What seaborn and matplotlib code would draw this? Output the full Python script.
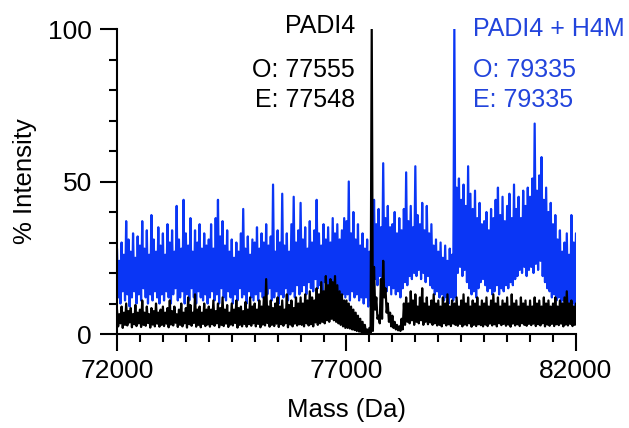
import numpy as np
import pandas as pd
import matplotlib
matplotlib.use("Agg")
import matplotlib.pyplot as plt
from matplotlib.ticker import MultipleLocator, FixedLocator
import seaborn as sns

# ---------------- data ----------------
mass_start, mass_stop, mass_step = 72000, 82000, 50
masses = np.arange(mass_start, mass_stop + 1, mass_step)

# PADI4 + H4M (blue) : upper and lower excursions of the noisy trace
blue_hi = [
    28, 24, 30, 26, 37, 31, 27, 33, 25, 32, 29, 37, 28, 34, 26, 39, 31, 27, 35, 29,
    33, 26, 36, 30, 34, 27, 42, 31, 28, 44, 33, 29, 38, 27, 34, 30, 36, 28, 33, 29,
    31, 36, 28, 38, 44, 32, 37, 29, 34, 27, 31, 25, 30, 27, 33, 41, 28, 32, 26, 31,
    30, 35, 28, 33, 30, 36, 29, 32, 49, 27, 34, 30, 46, 29, 33, 27, 36, 45, 30, 34,
    43, 31, 35, 28, 37, 30, 34, 44, 33, 29, 36, 31, 35, 30, 38, 33, 36, 31, 34, 38,
    37, 50, 33, 40, 31, 36, 29, 33, 28, 31, 27, 30, 44, 36, 41, 35, 56, 38, 42, 35,
    36, 40, 33, 38, 34, 41, 53, 37, 42, 35, 55, 39, 36, 43, 34, 42, 33, 36, 29, 31,
    27, 30, 25, 29, 24, 28, 26, 100, 48, 51, 44, 49, 42, 55, 46, 41, 47, 38, 43, 36,
    37, 40, 34, 41, 38, 44, 48, 39, 45, 37, 42, 46, 38, 49, 41, 45, 38, 47, 42, 48,
    45, 51, 69, 47, 52, 58, 44, 48, 40, 43, 36, 39, 31, 34, 27, 30, 33, 26, 39, 30,
    33,
]
blue_lo = [
    12, 10, 14, 11, 13, 9, 12, 14, 10, 13, 11, 15, 12, 10, 13, 11, 14, 12, 10, 13,
    11, 14, 12, 10, 13, 15, 11, 12, 14, 10, 13, 11, 15, 12, 10, 14, 12, 11, 13, 10,
    12, 14, 11, 13, 10, 15, 12, 11, 14, 12, 10, 13, 11, 15, 12, 13, 10, 14, 12, 11,
    13, 11, 14, 12, 10, 13, 15, 11, 12, 14, 10, 13, 12, 15, 11, 13, 14, 12, 16, 13,
    14, 16, 13, 17, 15, 14, 18, 15, 16, 14, 17, 15, 16, 14, 15, 13, 14, 12, 13, 12,
    13, 11, 14, 12, 13, 11, 12, 10, 12, 9, 11, 10, 18, 16, 19, 15, 17, 14, 16, 13,
    15, 13, 14, 12, 15, 17, 16, 19, 18, 20, 19, 21, 18, 20, 17, 19, 16, 15, 13, 14,
    12, 13, 11, 12, 10, 12, 11, 12, 20, 22, 19, 21, 17, 15, 13, 14, 12, 15, 17, 18,
    16, 14, 15, 13, 14, 16, 13, 15, 14, 16, 15, 17, 16, 18, 19, 21, 20, 22, 19, 21,
    22, 20, 23, 21, 24, 19, 17, 15, 14, 12, 13, 11, 12, 10, 11, 9, 10, 8, 10, 9,
    10,
]

# PADI4 (black)
black_hi = [
    8, 6.5, 9, 7, 10, 7.5, 8.5, 6.5, 9.5, 7, 8, 11, 7, 9, 6.5, 8.5, 7.5, 10, 7, 8,
    9, 7, 8.5, 11, 7.5, 9, 6.5, 8, 10, 7, 8.5, 12, 9.5, 7, 13, 8, 9, 7, 10, 8,
    9, 8, 11, 7.5, 10, 8.5, 12, 8, 9.5, 7, 10, 8, 11, 8.5, 9, 7.5, 10.5, 8, 12, 9,
    10, 8, 11, 9, 12, 18, 9, 11, 8.5, 10, 12, 9, 11, 8, 13, 9.5, 11, 8.5, 12, 10,
    12, 10, 13, 11, 14, 12, 11, 15, 13, 17, 14, 19, 16, 18, 17, 19, 16, 14, 13, 11,
    11, 10, 9, 8, 7, 6, 5, 4, 3, 1.5, 2, 100, 22, 12, 6, 18, 24, 15, 10, 7,
    6, 4, 3, 2.5, 5, 10, 12, 10, 14, 11, 13, 9, 12, 15, 10, 12, 9, 11, 13, 10,
    11, 9, 12, 10, 13, 9, 11, 10, 12, 9, 11, 13, 10, 12, 9, 11, 10, 12, 9, 11,
    10, 12, 9, 11, 13, 10, 12, 9, 11, 10, 12, 9, 13, 10, 11, 9, 12, 10, 11, 9,
    11, 9, 12, 10, 11, 9, 12, 10, 11, 9, 10, 12, 9, 11, 10, 12, 14, 10, 11, 9,
    10,
]
black_lo = [
    2.5, 3.5, 2, 3, 2.8, 3.8, 2.2, 3.2, 2.6, 3.5, 2.3, 3, 2.7, 3.6, 2.1, 3.1, 2.5, 3.4, 2.4, 3,
    2.6, 3.4, 2.2, 3.1, 2.8, 3.7, 2.3, 3, 2.5, 3.5, 2.1, 3.2, 2.7, 3.6, 2.4, 3, 2.2, 3.3, 2.6, 3.1,
    2.4, 3.2, 2.7, 3.5, 2.2, 3, 2.6, 3.4, 2.3, 3.1, 2.8, 3.6, 2.1, 3, 2.5, 3.3, 2.4, 3.2, 2.7, 3.5,
    2.5, 3.3, 2.2, 3.1, 2.8, 3.6, 2.4, 3, 2.6, 3.4, 2.3, 3.2, 2.7, 3.5, 2.2, 3.1, 2.5, 3.4, 2.8, 3.2,
    3, 2.5, 3.5, 2.8, 3.2, 2.5, 3.8, 3, 3.5, 4, 3.5, 4.5, 4, 5, 4.5, 4, 3.5, 3, 2.5, 2,
    2, 1.8, 1.5, 1.3, 1, 0.8, 0.6, 0.4, 0.3, 0.2, 0.2, 1, 8, 5, 3.5, 5, 12, 7, 4, 2.5,
    2, 1.5, 1.2, 1, 1.5, 3, 4, 3.5, 4.5, 3, 4, 3.5, 4.5, 3, 4, 3.2, 3.8, 3, 3.5, 2.8,
    3, 2.5, 3.5, 2.8, 3.2, 2.6, 3.4, 3, 2.7, 3.3, 2.5, 3.1, 2.8, 3.5, 2.4, 3, 2.6, 3.2, 2.9, 2.5,
    3.1, 2.6, 3.4, 2.8, 3.2, 2.5, 3.5, 2.9, 3.3, 2.7, 3.1, 2.4, 3.4, 2.8, 3.2, 2.6, 3.5, 3, 2.7, 3.3,
    2.9, 3.4, 2.6, 3.2, 2.8, 3.5, 2.5, 3.1, 2.7, 3.3, 2.6, 3.2, 2.9, 3.4, 2.5, 3.1, 2.8, 3.3, 2.6, 3,
    3,
]

x_major_ticks = [72000, 77000, 82000]
y_major_ticks = [0, 50, 100]

label_black = ["PADI4", "O: 77555", "E: 77548"]
label_blue = ["PADI4 + H4M", "O: 79335", "E: 79335"]

BLUE = "#0A36F5"
BLUE_TXT = "#2244DC"

# ---------------- build long-form traces ----------------
def trace(hi, lo, name):
    x = np.column_stack([masses, masses + mass_step / 2]).ravel()
    y = np.column_stack([np.asarray(hi, float), np.asarray(lo, float)]).ravel()
    return pd.DataFrame({"mass": x, "intensity": y, "sample": name})

df_blue = trace(blue_hi, blue_lo, "PADI4 + H4M")
df_black = trace(black_hi, black_lo, "PADI4")

# ---------------- plot ----------------
sns.set_style("ticks")
plt.rcParams["font.family"] = ["Liberation Sans", "DejaVu Sans"]
plt.rcParams.update({
    "text.color": "black", "axes.labelcolor": "black",
    "xtick.color": "black", "ytick.color": "black",
    "axes.edgecolor": "black",
})

fig = plt.figure(figsize=(6.29, 4.28), dpi=100)
ax = fig.add_axes([0.186, 0.2196, 0.7297, 0.7126])

sns.lineplot(data=df_blue, x="mass", y="intensity", color=BLUE, lw=1.6,
             estimator=None, sort=False, ax=ax)
sns.lineplot(data=df_black, x="mass", y="intensity", color="black", lw=1.6,
             estimator=None, sort=False, ax=ax)

ax.set_xlim(72000, 82000)
ax.set_ylim(0, 100)
ax.xaxis.set_major_locator(FixedLocator(x_major_ticks))
ax.xaxis.set_minor_locator(MultipleLocator(500))
ax.yaxis.set_major_locator(FixedLocator(y_major_ticks))
ax.yaxis.set_minor_locator(MultipleLocator(10))

sns.despine(ax=ax)
for s in ("left", "bottom"):
    ax.spines[s].set_linewidth(1.5)
    ax.spines[s].set_color("black")
ax.tick_params(which="major", length=12, width=1.5, direction="out",
               labelsize=19, pad=6, color="black", labelcolor="black")
ax.tick_params(which="minor", length=6, width=1.5, direction="out", color="black")

ax.set_xlabel("Mass (Da)", fontsize=18.5, labelpad=11, color="black")
ax.set_ylabel("% Intensity", fontsize=18.5, labelpad=8, color="black")

fs = 18
fig.text(0.5644, 0.939, label_black[0], ha="right", va="center", fontsize=fs, color="black")
fig.text(0.5644, 0.836, label_black[1], ha="right", va="center", fontsize=fs, color="black")
fig.text(0.5644, 0.766, label_black[2], ha="right", va="center", fontsize=fs, color="black")
fig.text(0.752, 0.932, label_blue[0], ha="left", va="center", fontsize=fs, color=BLUE_TXT)
fig.text(0.752, 0.836, label_blue[1], ha="left", va="center", fontsize=fs, color=BLUE_TXT)
fig.text(0.752, 0.766, label_blue[2], ha="left", va="center", fontsize=fs, color=BLUE_TXT)

fig.savefig("out.png", dpi=100)
